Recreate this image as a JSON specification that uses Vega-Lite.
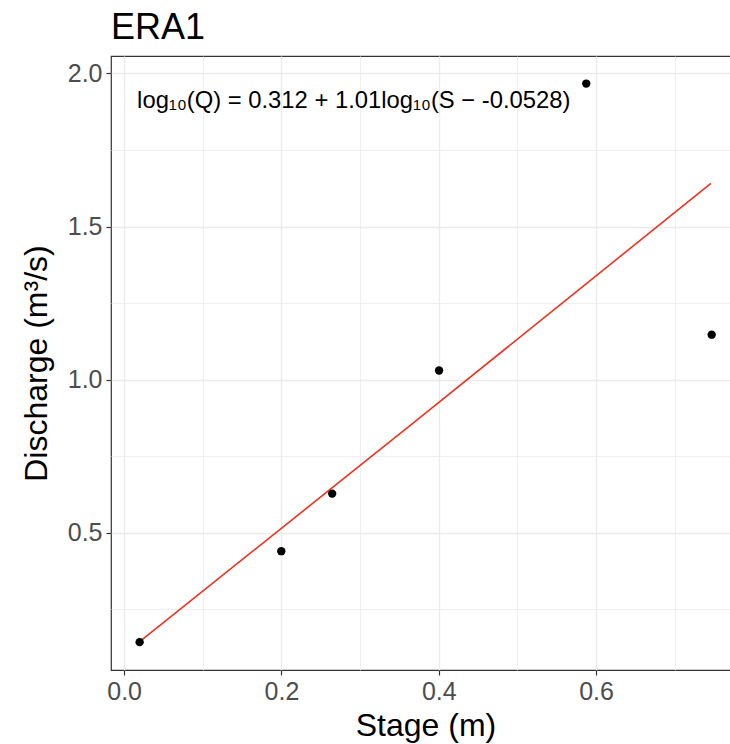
{
  "$schema": "https://vega.github.io/schema/vega-lite/v6.json",
  "autosize": "none",
  "padding": {"left": 111, "top": 56, "right": 0, "bottom": 74},
  "width": 629,
  "height": 614,
  "background": "white",
  "title": {"text": "ERA1", "anchor": "start", "frame": "group", "fontSize": 36, "fontWeight": "normal", "font": "Liberation Sans", "color": "black", "baseline": "alphabetic", "offset": 17, "dy": 36},
  "config": {
    "view": {"stroke": "#333333", "strokeWidth": 1.2},
    "font": "Liberation Sans",
    "axis": {"domain": false, "labelFont": "Liberation Sans", "titleFont": "Liberation Sans", "labelColor": "#4d4d4d", "labelFontSize": 25, "titleFontSize": 32, "titleFontWeight": "normal", "titleColor": "black", "tickColor": "#333333", "tickWidth": 1.2, "tickSize": 5, "gridColor": "#ebebeb"}
  },
  "datasets": {
    "obs": [
      {"stage": 0.0197, "discharge": 0.143},
      {"stage": 0.1998, "discharge": 0.44},
      {"stage": 0.2645, "discharge": 0.628},
      {"stage": 0.4004, "discharge": 1.03},
      {"stage": 0.5875, "discharge": 1.967},
      {"stage": 0.747, "discharge": 1.147}
    ],
    "fit": [
      {"stage": 0.0197, "discharge": 0.145},
      {"stage": 0.3717, "discharge": 0.867},
      {"stage": 0.746, "discharge": 1.641}
    ],
    "eq": [
      {"label": "log₁₀(Q) = 0.312 + 1.01log₁₀(S − -0.0528)"}
    ]
  },
  "layer": [
    {
      "data": {"name": "fit"},
      "mark": {"type": "line", "color": "#f0321e", "strokeWidth": 1.6, "clip": true},
      "encoding": {
        "x": {"field": "stage", "type": "quantitative", "scale": {"domain": [-0.0167, 0.783], "nice": false, "zero": false},
          "axis": {"title": "Stage (m)", "values": [0, 0.1, 0.2, 0.3, 0.4, 0.5, 0.6, 0.7],
            "labelExpr": "round(datum.value*10)%2==0 ? format(datum.value,'.1f') : ''",
            "tickOpacity": {"condition": {"test": "round(datum.value*10)%2==0", "value": 1}, "value": 0},
            "gridWidth": {"condition": {"test": "round(datum.value*10)%2==0", "value": 1.4}, "value": 0.8},
            "labelPadding": 4, "titlePadding": 6}},
        "y": {"field": "discharge", "type": "quantitative", "scale": {"domain": [0.052, 2.057], "nice": false, "zero": false},
          "axis": {"title": "Discharge (m³/s)", "values": [0.25, 0.5, 0.75, 1, 1.25, 1.5, 1.75, 2],
            "labelExpr": "round(datum.value*4)%2==0 ? format(datum.value,'.1f') : ''",
            "tickOpacity": {"condition": {"test": "round(datum.value*4)%2==0", "value": 1}, "value": 0},
            "gridWidth": {"condition": {"test": "round(datum.value*4)%2==0", "value": 1.4}, "value": 0.8},
            "labelPadding": 4, "titlePadding": 14}}
      }
    },
    {
      "data": {"name": "obs"},
      "mark": {"type": "point", "filled": true, "color": "black", "opacity": 1, "size": 70},
      "encoding": {
        "x": {"field": "stage", "type": "quantitative"},
        "y": {"field": "discharge", "type": "quantitative"}
      }
    },
    {
      "data": {"name": "eq"},
      "mark": {"type": "text", "align": "left", "baseline": "middle", "fontSize": 23.8, "font": "Liberation Sans", "color": "black"},
      "encoding": {
        "x": {"datum": 0.0165, "type": "quantitative"},
        "y": {"datum": 1.911, "type": "quantitative"},
        "text": {"field": "label"}
      }
    }
  ]
}
